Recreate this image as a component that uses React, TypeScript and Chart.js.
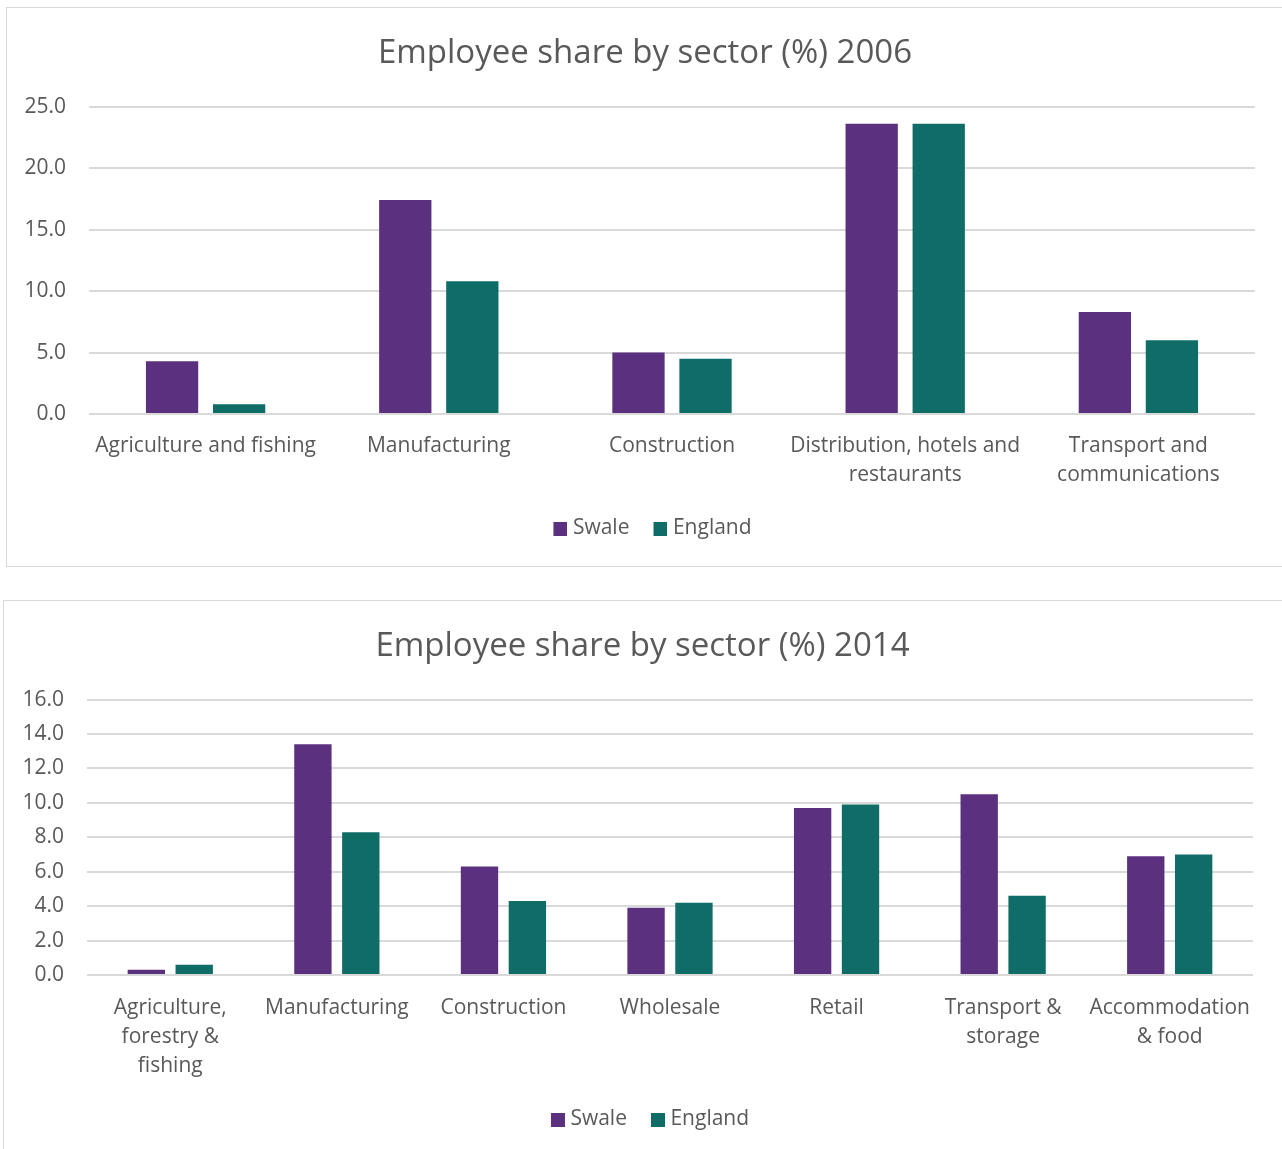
import React, { useEffect, useRef } from "react";
import { Chart, registerables } from "chart.js";

Chart.register(...registerables);

const SERIES_NAMES = ["Swale", "England"];

const TITLE_2006 = "Employee share by sector (%) 2006";
const CATEGORIES_2006 = [
  ["Agriculture and fishing"],
  ["Manufacturing"],
  ["Construction"],
  ["Distribution, hotels and", "restaurants"],
  ["Transport and", "communications"],
];
const SWALE_2006 = [4.3, 17.4, 5.0, 23.6, 8.3];
const ENGLAND_2006 = [0.8, 10.8, 4.5, 23.6, 6.0];
const Y_MAX_2006 = 25;
const Y_STEP_2006 = 5;

const TITLE_2014 = "Employee share by sector (%) 2014";
const CATEGORIES_2014 = [
  ["Agriculture,", "forestry &", "fishing"],
  ["Manufacturing"],
  ["Construction"],
  ["Wholesale"],
  ["Retail"],
  ["Transport &", "storage"],
  ["Accommodation", "& food"],
];
const SWALE_2014 = [0.3, 13.4, 6.3, 3.9, 9.7, 10.5, 6.9];
const ENGLAND_2014 = [0.6, 8.3, 4.3, 4.2, 9.9, 4.6, 7.0];
const Y_MAX_2014 = 16;
const Y_STEP_2014 = 2;

const COLORS = ["#5B317F", "#0F6C67"];
const TEXT = "#595959";
const GRID = "#D9D9D9";
const FONT = "'Open Sans', Lato, sans-serif";

const shiftBlocks = {
  id: "shiftBlocks",
  afterLayout(chart: any, _args: any, opts: any) {
    const lx = (opts && opts.legendDx) || 0;
    const tx = (opts && opts.titleDx) || 0;
    if (chart.legend) {
      chart.legend.left += lx;
      chart.legend.right += lx;
    }
    if (chart.titleBlock) {
      chart.titleBlock.left += tx;
      chart.titleBlock.right += tx;
    }
  },
};

function legendSwatch(color: string): HTMLCanvasElement {
  const c = document.createElement("canvas");
  c.width = 24;
  c.height = 14;
  const ctx = c.getContext("2d");
  if (ctx) {
    ctx.fillStyle = color;
    ctx.fillRect(10, 0, 14, 14);
  }
  return c;
}

type Cfg = {
  title: string;
  labels: string[][];
  a: number[];
  b: number[];
  max: number;
  step: number;
  width: number;
  height: number;
  yWidth: number;
  xHeight: number;
  padRight: number;
  padBottom: number;
  xPad: number;
};

function BarChart(props: Cfg) {
  const ref = useRef<HTMLCanvasElement | null>(null);
  useEffect(() => {
    if (!ref.current) return;
    const chart = new Chart(ref.current, {
      type: "bar",
      data: {
        labels: props.labels,
        datasets: [
          { label: SERIES_NAMES[0], data: props.a, backgroundColor: COLORS[0], pointStyle: legendSwatch(COLORS[0]), categoryPercentage: 0.575, barPercentage: 0.78 } as any,
          { label: SERIES_NAMES[1], data: props.b, backgroundColor: COLORS[1], pointStyle: legendSwatch(COLORS[1]), categoryPercentage: 0.575, barPercentage: 0.78 } as any,
        ],
      },
      plugins: [shiftBlocks],
      options: {
        responsive: false,
        animation: false,
        layout: { padding: { left: 0, right: props.padRight, top: 0, bottom: props.padBottom } },
        plugins: {
          shiftBlocks: { legendDx: 19, titleDx: 14 },
          title: {
            display: true,
            text: props.title,
            color: TEXT,
            font: { family: FONT, size: 33, weight: "normal" },
            padding: { top: 26, bottom: 33 },
          },
          legend: {
            position: "bottom",
            labels: {
              color: TEXT,
              font: { family: FONT, size: 21 },
              usePointStyle: true,
              pointStyleWidth: 14,
              boxWidth: 14,
              boxHeight: 14,
              padding: 19,
            },
          },
          tooltip: { enabled: false },
        } as any,
        scales: {
          x: {
            grid: { display: false },
            border: { display: false },
            ticks: {
              color: TEXT,
              font: { family: FONT, size: 21, lineHeight: 1.38 },
              padding: props.xPad,
              maxRotation: 0,
              autoSkip: false,
            },
            afterFit: (s: any) => { s.height = props.xHeight; },
          },
          y: {
            min: 0,
            max: props.max,
            grid: { color: GRID, lineWidth: 2, drawTicks: false },
            border: { display: false },
            ticks: {
              stepSize: props.step,
              color: TEXT,
              font: { family: FONT, size: 21 },
              padding: 23,
              callback: (v: any) => Number(v).toFixed(1),
            },
            afterFit: (s: any) => { s.width = props.yWidth; },
          },
        },
      },
    });
    return () => chart.destroy();
  }, []);
  return <canvas ref={ref} width={props.width} height={props.height} style={{ display: "block" }} />;
}

export default function App() {
  return (
    <div>
      <div style={{ position: "absolute", left: 6, top: 7, width: 1278, height: 558, border: "1px solid #D9D9D9", overflow: "hidden", background: "#fff" }}>
        <BarChart
          title={TITLE_2006}
          labels={CATEGORIES_2006}
          a={SWALE_2006}
          b={ENGLAND_2006}
          max={Y_MAX_2006}
          step={Y_STEP_2006}
          width={1276}
          height={558}
          yWidth={82}
          xHeight={85}
          padRight={28}
          padBottom={17}
          xPad={10}
        />
      </div>
      <div style={{ position: "absolute", left: 3, top: 600, width: 1281, height: 560, border: "1px solid #D9D9D9", overflow: "hidden", background: "#fff" }}>
        <BarChart
          title={TITLE_2014}
          labels={CATEGORIES_2014}
          a={SWALE_2014}
          b={ENGLAND_2014}
          max={Y_MAX_2014}
          step={Y_STEP_2014}
          width={1279}
          height={548}
          yWidth={83}
          xHeight={115}
          padRight={30}
          padBottom={9}
          xPad={11}
        />
      </div>
    </div>
  );
}
